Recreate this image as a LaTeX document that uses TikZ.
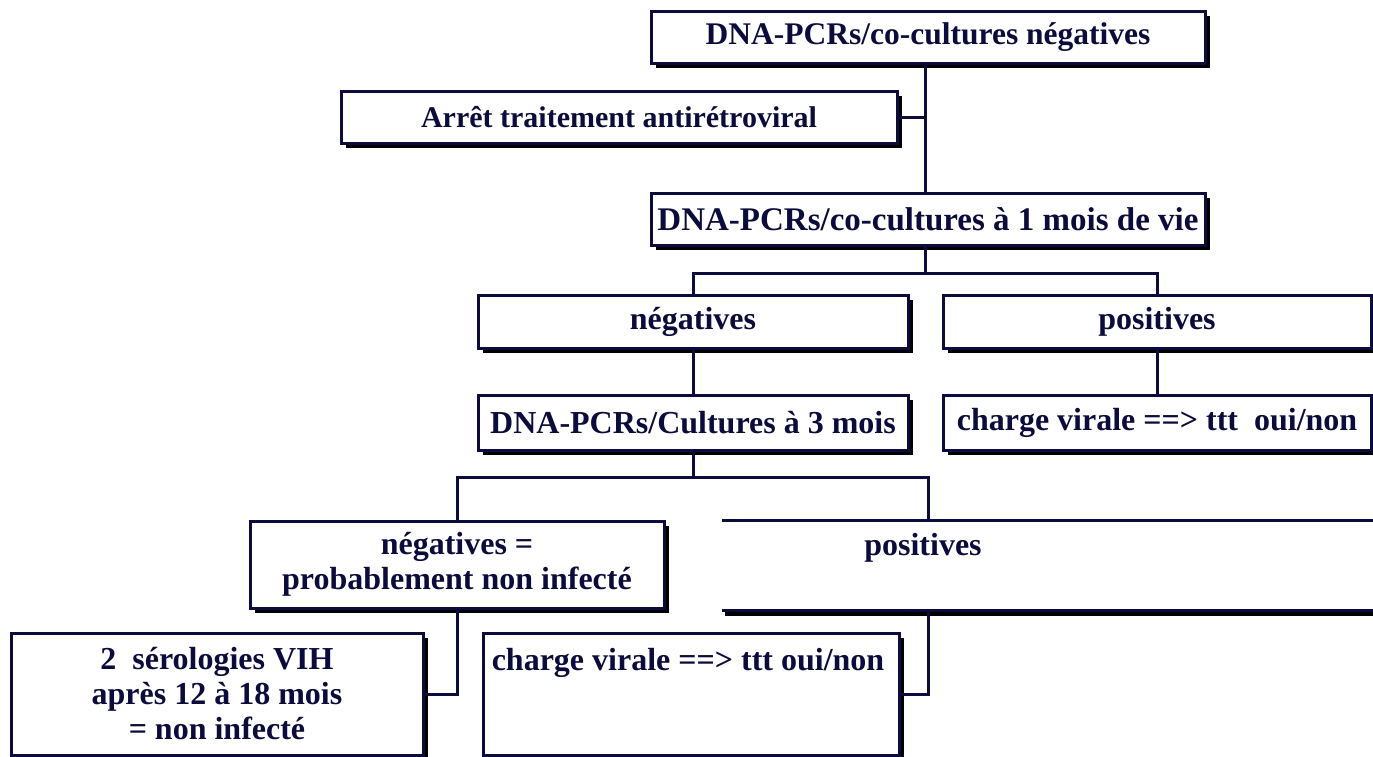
\documentclass[tikz,border=0pt]{standalone}
\usepackage{fontspec}
\setmainfont{Liberation Serif}
\usetikzlibrary{shadows}
\definecolor{navy}{RGB}{12,12,60}
\begin{document}
\begin{tikzpicture}[x=1pt,y=-1pt,
  txt/.style={font=\bfseries\fontsize{32pt}{35pt}\selectfont, text=navy, align=center},
  box/.style={txt, draw=navy, line width=3pt, fill=white, inner sep=0pt,
    drop shadow={shadow xshift=5pt, shadow yshift=-5pt, fill=black, opacity=1}},
  conn/.style={draw=navy, line width=3pt},
  lbl/.style={txt, inner sep=0pt}]
\useasboundingbox (0,0) rectangle (1373,756);
\clip (0,0) rectangle (1373,756);
% spine coordinates
\coordinate (s) at (925,0);
\coordinate (b1) at (925,273);
\coordinate (b2) at (693,477);
\coordinate (c9) at (928,0);
% boxes
\node[box, minimum width=554pt, minimum height=52pt, font=\bfseries\fontsize{31.5pt}{34pt}\selectfont] (n1) at (928,37) {DNA-PCRs/co-cultures négatives};
\node[box, minimum width=556pt, minimum height=52pt, font=\bfseries\fontsize{30pt}{33pt}\selectfont] (n2) at (619,117) {Arrêt traitement antirétroviral};
\node[box, minimum width=554pt, minimum height=52pt, font=\bfseries\fontsize{33pt}{36pt}\selectfont] (n3) at (928,219) {DNA-PCRs/co-cultures à 1 mois de vie};
\node[box, minimum width=430pt, minimum height=53pt] (n4) at (693,321.5) {négatives};
\node[box, minimum width=428pt, minimum height=53pt] (n5) at (1157,321.5) {positives};
\node[box, minimum width=430pt, minimum height=55pt] (n6) at (693,422.5) {DNA-PCRs/Cultures à 3 mois};
\node[box, minimum width=428pt, minimum height=55pt] (n7) at (1157,422.5) {charge virale ==> ttt~~oui/non};
\node[box, minimum width=414pt, minimum height=87pt] (n8) at (457,564.5) {négatives =\\probablement non infecté};
\node[inner sep=0pt, minimum width=660pt, minimum height=89pt] (n9) at (1052,565.5) {};
\node[box, minimum width=412pt, minimum height=122pt] (n10) at (217,694) {2~~sérologies VIH\\après 12 à 18 mois\\= non infecté};
\node[box, minimum width=416pt, minimum height=122pt] (n11) at (691,694) {};
\node[lbl] (n9t) at (923,548) {positives};
\node[lbl] (n11t) at (688,663) {charge virale ==> ttt oui/non};
% open box n9
\draw[black, line width=4pt] ([xshift=3pt,yshift=-4pt]n9.south west) -- ([yshift=-4pt]n9.south east);
\draw[conn] (n9.north west) -- (n9.north east);
\draw[conn] (n9.south west) -- (n9.south east);
% connectors
\draw[conn] (n1.south -| s) -- (n3.north -| s);
\draw[conn] (n2.east) -- (n2.east -| s);
\draw[conn] (n3.south -| s) -- (b1);
\draw[conn] (n4.north) |- (b1) -| (n5.north);
\draw[conn] (n4.south) -- (n6.north);
\draw[conn] (n5.south) -- (n7.north);
\draw[conn] (n6.south) -- (b2);
\draw[conn] (n8.north) |- (b2) -| (n9.north -| c9);
\draw[conn] (n8.south) |- (n10.east);
\draw[conn] (n9.south -| c9) |- (n11.east);
\end{tikzpicture}
\end{document}
